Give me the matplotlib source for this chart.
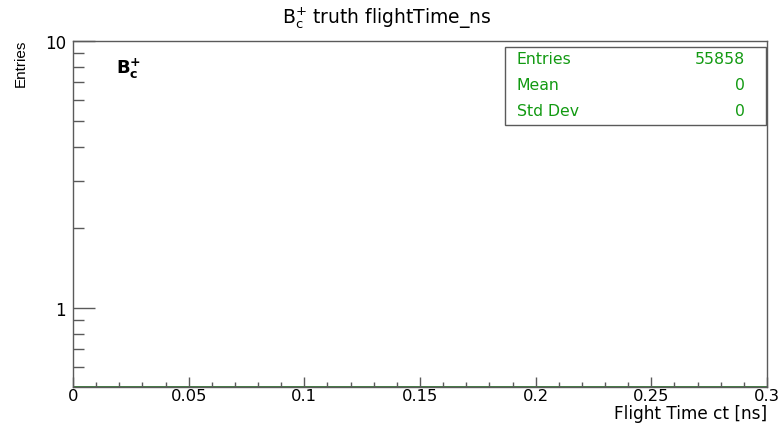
"""
B_c+ truth flightTime_ns histogram (empty, log y)
"""
import matplotlib
matplotlib.use('Agg')
import matplotlib.pyplot as plt
from matplotlib.patches import Rectangle
from matplotlib.ticker import MultipleLocator, LogLocator, FixedFormatter, FixedLocator
import numpy as np

# wide font: the reference text is stretched horizontally
plt.rcParams['font.family'] = ['DejaVu Sans']

# data
bin_edges = np.linspace(0.0, 0.3, 31)
counts = np.zeros(30)             # all entries are outside the shown range
stat_names = ['Entries', 'Mean', 'Std Dev']
stat_values = ['55858', '0', '0']
x_range = (0.0, 0.3)
y_range = (0.506, 10)
x_tick_values = [0, 0.05, 0.1, 0.15, 0.2, 0.25, 0.3]
x_tick_labels = ['0', '0.05', '0.1', '0.15', '0.2', '0.25', '0.3']
y_tick_values = [1, 10]
y_tick_labels = ['1', '10']

W, H = 784, 427
fig = plt.figure(figsize=(W / 100, H / 100), dpi=100)
ax = fig.add_axes([73 / W, 39 / H, (767 - 73) / W, (388 - 42) / H])

# histogram line, drawn at the bottom of the log axis like ROOT does
ax.stairs(np.clip(counts, y_range[0], None), bin_edges, baseline=y_range[0],
          color='#1f6b1f', lw=1.2, clip_on=False)

ax.set_yscale('log')
ax.set_xlim(*x_range)
ax.set_ylim(*y_range)

gray = '#5a5a5a'
for s in ax.spines.values():
    s.set_color(gray)
    s.set_linewidth(1.0)

ax.xaxis.set_minor_locator(MultipleLocator(0.01))
ax.set_xticks(x_tick_values)
ax.set_xticklabels(x_tick_labels)
ax.yaxis.set_major_locator(FixedLocator(y_tick_values))
ax.yaxis.set_major_formatter(FixedFormatter(y_tick_labels))
ax.yaxis.set_minor_locator(LogLocator(base=10, subs=np.arange(2, 10)))
ax.yaxis.set_minor_formatter(FixedFormatter([]))

ax.tick_params(axis='x', which='major', direction='in', length=7.2, width=1,
               color=gray, labelsize=11.8, pad=0.5, top=False)
ax.tick_params(axis='x', which='minor', direction='in', length=3.6, width=1,
               color=gray, top=False)
ax.tick_params(axis='y', which='major', direction='in', length=15.8, width=1,
               color=gray, labelsize=12, pad=5, right=False)
ax.tick_params(axis='y', which='minor', direction='in', length=8, width=1,
               color=gray, right=False)

# axis titles, ROOT style (aligned at the axis end)
fig.text(767 / W, 1 - 405 / H, 'Flight Time ct [ns]', ha='right', va='top',
         fontsize=12.2)
fig.text(21 / W, 1 - 40 / H, 'Entries', ha='center', va='top', rotation=90,
         fontsize=11, family='Liberation Sans')

fig.text(387 / W, 1 - 18 / H, r'B$_{\rm c}^{+}$ truth flightTime_ns',
         ha='center', va='center', fontsize=13.5)

ax.text(116 / W, 1 - 69 / H, r'$\mathbf{B_{c}^{+}}$', transform=fig.transFigure,
        ha='left', va='center', fontsize=13)

# stats box
green = '#129a12'
fig.patches.append(Rectangle((505 / W, 1 - 126 / H), (766 - 505) / W, (126 - 48) / H,
                             transform=fig.transFigure, facecolor='white',
                             edgecolor=gray, lw=1.0, zorder=5))
for i, (name, val) in enumerate(zip(stat_names, stat_values)):
    y = 1 - (60 + 26 * i) / H
    fig.text(517 / W, y, name, ha='left', va='center', fontsize=11.3, color=green, zorder=6)
    fig.text(745 / W, y, val, ha='right', va='center', fontsize=11.3, color=green, zorder=6)

fig.savefig('out.png', dpi=100)
